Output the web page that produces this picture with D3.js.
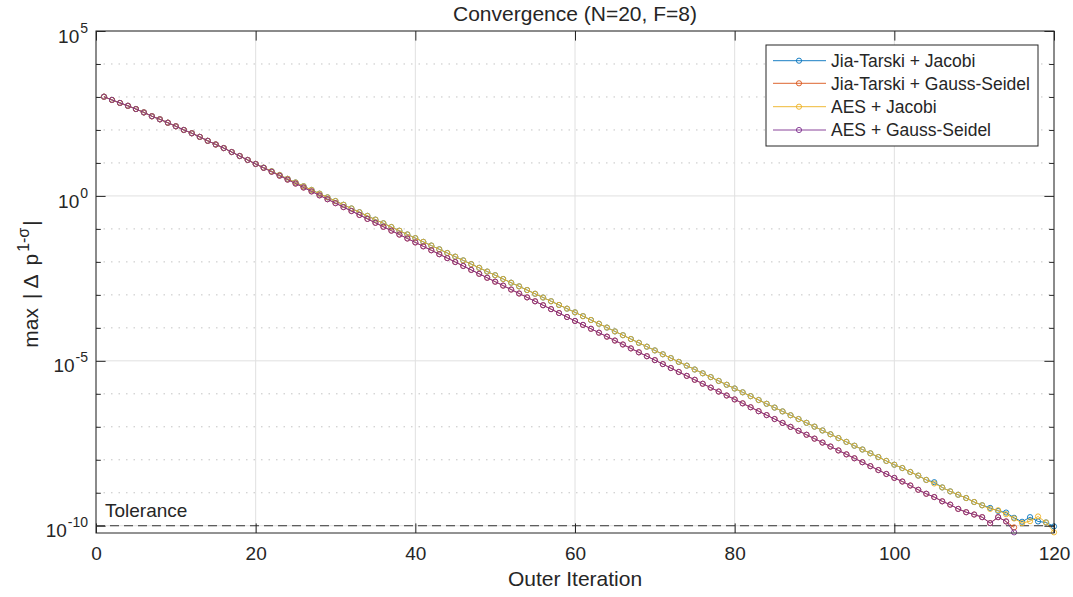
<!DOCTYPE html>
<html><head><meta charset="utf-8">
<script src="https://cdn.jsdelivr.net/npm/d3@7"></script>
<style>
body{margin:0;background:#fff}
svg{display:block}
text{font-family:"Liberation Sans",Arial,Helvetica,sans-serif;fill:#262626}
</style>
</head><body>
<svg id="chart" width="1073" height="597"></svg>
<script>
// ---------------- DATA ----------------
const title = "Convergence (N=20, F=8)";
const xLabel = "Outer Iteration";
const xTicks = [0, 20, 40, 60, 80, 100, 120];
const yMajorTicks = [1e-10, 1e-5, 1e0, 1e5];
const yMajorExponents = ["-10", "-5", "0", "5"];
const yMinorTicks = [1e-9,1e-8,1e-7,1e-6,1e-4,1e-3,1e-2,1e-1,1e1,1e2,1e3,1e4];
const tolerance = 1e-10;
const seriesNames = ["Jia-Tarski + Jacobi", "Jia-Tarski + Gauss-Seidel", "AES + Jacobi", "AES + Gauss-Seidel"];
const seriesColors = ["#0072BD", "#D95319", "#EDB120", "#7E2F8E"];

// max |Δ p^(1-σ)| per outer iteration (iteration = index + 1)
const jtJacobi = [
 1.02e3, 8.13e2, 6.6e2, 5.4e2, 4.3e2, 3.4e2, 2.6e2, 2.1e2, 1.66e2, 1.29e2,
 1.0e2, 7.94e1, 6.17e1, 4.68e1, 3.63e1, 2.82e1, 2.14e1, 1.62e1, 1.23e1, 9.3,
 7.2, 5.6, 4.3, 3.3, 2.56, 1.97, 1.52, 1.17, 9.06e-1, 7.0e-1,
 5.4e-1, 4.17e-1, 3.21e-1, 2.48e-1, 1.91e-1, 1.48e-1, 1.14e-1, 8.81e-2, 6.79e-2, 5.25e-2,
 4.05e-2, 3.13e-2, 2.41e-2, 1.86e-2, 1.44e-2, 1.11e-2, 8.55e-3, 6.61e-3, 5.09e-3, 3.94e-3,
 3.03e-3, 2.34e-3, 1.81e-3, 1.40e-3, 1.08e-3, 8.32e-4, 6.41e-4, 4.95e-4, 3.82e-4, 2.95e-4,
 2.26e-4, 1.73e-4, 1.33e-4, 1.02e-4, 7.80e-5, 5.98e-5, 4.58e-5, 3.52e-5, 2.69e-5, 2.07e-5,
 1.58e-5, 1.21e-5, 9.29e-6, 7.13e-6, 5.46e-6, 4.19e-6, 3.21e-6, 2.46e-6, 1.88e-6, 1.45e-6,
 1.11e-6, 8.49e-7, 6.50e-7, 4.99e-7, 3.82e-7, 2.93e-7, 2.24e-7, 1.72e-7, 1.32e-7, 1.01e-7,
 7.74e-8, 5.94e-8, 4.55e-8, 3.49e-8, 2.67e-8, 2.05e-8, 1.57e-8, 1.21e-8, 9.23e-9, 7.08e-9,
 5.62e-9, 4.27e-9, 3.31e-9, 2.45e-9, 2.09e-9, 1.45e-9, 1.10e-9, 8.71e-10, 6.92e-10, 5.25e-10,
 4.17e-10, 3.47e-10, 2.82e-10, 2.51e-10, 1.74e-10, 1.32e-10, 1.82e-10, 1.35e-10, 1.26e-10, 9.55e-11
];
const jtGaussSeidel = [
 1.02e3, 8.13e2, 6.6e2, 5.4e2, 4.3e2, 3.4e2, 2.6e2, 2.1e2, 1.66e2, 1.29e2,
 1.0e2, 7.94e1, 6.17e1, 4.68e1, 3.63e1, 2.82e1, 2.14e1, 1.62e1, 1.23e1, 9.3,
 7.1, 5.4, 4.1, 3.12, 2.37, 1.80, 1.37, 1.04, 7.93e-1, 6.03e-1,
 4.58e-1, 3.48e-1, 2.65e-1, 2.01e-1, 1.53e-1, 1.16e-1, 8.85e-2, 6.73e-2, 5.12e-2, 3.89e-2,
 2.96e-2, 2.25e-2, 1.71e-2, 1.30e-2, 9.89e-3, 7.52e-3, 5.71e-3, 4.35e-3, 3.30e-3, 2.51e-3,
 1.91e-3, 1.45e-3, 1.10e-3, 8.39e-4, 6.38e-4, 4.85e-4, 3.69e-4, 2.81e-4, 2.13e-4, 1.62e-4,
 1.23e-4, 9.38e-5, 7.13e-5, 5.42e-5, 4.12e-5, 3.13e-5, 2.38e-5, 1.81e-5, 1.38e-5, 1.05e-5,
 7.96e-6, 6.05e-6, 4.60e-6, 3.50e-6, 2.66e-6, 2.02e-6, 1.54e-6, 1.17e-6, 8.89e-7, 6.76e-7,
 5.14e-7, 3.91e-7, 2.97e-7, 2.26e-7, 1.72e-7, 1.31e-7, 9.93e-8, 7.55e-8, 5.74e-8, 4.37e-8,
 3.32e-8, 2.52e-8, 1.92e-8, 1.46e-8, 1.11e-8, 8.43e-9, 6.41e-9, 4.88e-9, 3.71e-9, 2.82e-9,
 2.19e-9, 1.66e-9, 1.23e-9, 9.33e-10, 7.41e-10, 5.50e-10, 4.37e-10, 3.24e-10, 2.57e-10, 2.19e-10,
 1.82e-10, 1.20e-10, 1.82e-10, 1.35e-10, 8.91e-11
];
const aesJacobi = [
 1.02e3, 8.13e2, 6.6e2, 5.4e2, 4.3e2, 3.4e2, 2.6e2, 2.1e2, 1.66e2, 1.29e2,
 1.0e2, 7.94e1, 6.17e1, 4.68e1, 3.63e1, 2.82e1, 2.14e1, 1.62e1, 1.23e1, 9.3,
 7.2, 5.6, 4.3, 3.3, 2.56, 1.97, 1.52, 1.17, 9.06e-1, 7.0e-1,
 5.4e-1, 4.17e-1, 3.21e-1, 2.48e-1, 1.91e-1, 1.48e-1, 1.14e-1, 8.81e-2, 6.79e-2, 5.25e-2,
 4.05e-2, 3.13e-2, 2.41e-2, 1.86e-2, 1.44e-2, 1.11e-2, 8.55e-3, 6.61e-3, 5.09e-3, 3.94e-3,
 3.03e-3, 2.34e-3, 1.81e-3, 1.40e-3, 1.08e-3, 8.32e-4, 6.41e-4, 4.95e-4, 3.82e-4, 2.95e-4,
 2.26e-4, 1.73e-4, 1.33e-4, 1.02e-4, 7.80e-5, 5.98e-5, 4.58e-5, 3.52e-5, 2.69e-5, 2.07e-5,
 1.58e-5, 1.21e-5, 9.29e-6, 7.13e-6, 5.46e-6, 4.19e-6, 3.21e-6, 2.46e-6, 1.88e-6, 1.45e-6,
 1.11e-6, 8.49e-7, 6.50e-7, 4.99e-7, 3.82e-7, 2.93e-7, 2.24e-7, 1.72e-7, 1.32e-7, 1.01e-7,
 7.74e-8, 5.94e-8, 4.55e-8, 3.49e-8, 2.67e-8, 2.05e-8, 1.57e-8, 1.21e-8, 9.23e-9, 7.08e-9,
 5.62e-9, 4.27e-9, 3.31e-9, 2.45e-9, 1.91e-9, 1.45e-9, 1.10e-9, 8.71e-10, 6.92e-10, 5.25e-10,
 4.17e-10, 3.24e-10, 2.95e-10, 2.24e-10, 1.66e-10, 1.20e-10, 1.38e-10, 1.91e-10, 1.26e-10, 6.31e-11
];
const aesGaussSeidel = [
 1.02e3, 8.13e2, 6.6e2, 5.4e2, 4.3e2, 3.4e2, 2.6e2, 2.1e2, 1.66e2, 1.29e2,
 1.0e2, 7.94e1, 6.17e1, 4.68e1, 3.63e1, 2.82e1, 2.14e1, 1.62e1, 1.23e1, 9.3,
 7.1, 5.4, 4.1, 3.12, 2.37, 1.80, 1.37, 1.04, 7.93e-1, 6.03e-1,
 4.58e-1, 3.48e-1, 2.65e-1, 2.01e-1, 1.53e-1, 1.16e-1, 8.85e-2, 6.73e-2, 5.12e-2, 3.89e-2,
 2.96e-2, 2.25e-2, 1.71e-2, 1.30e-2, 9.89e-3, 7.52e-3, 5.71e-3, 4.35e-3, 3.30e-3, 2.51e-3,
 1.91e-3, 1.45e-3, 1.10e-3, 8.39e-4, 6.38e-4, 4.85e-4, 3.69e-4, 2.81e-4, 2.13e-4, 1.62e-4,
 1.23e-4, 9.38e-5, 7.13e-5, 5.42e-5, 4.12e-5, 3.13e-5, 2.38e-5, 1.81e-5, 1.38e-5, 1.05e-5,
 7.96e-6, 6.05e-6, 4.60e-6, 3.50e-6, 2.66e-6, 2.02e-6, 1.54e-6, 1.17e-6, 8.89e-7, 6.76e-7,
 5.14e-7, 3.91e-7, 2.97e-7, 2.26e-7, 1.72e-7, 1.31e-7, 9.93e-8, 7.55e-8, 5.74e-8, 4.37e-8,
 3.32e-8, 2.52e-8, 1.92e-8, 1.46e-8, 1.11e-8, 8.43e-9, 6.41e-9, 4.88e-9, 3.71e-9, 2.82e-9,
 2.19e-9, 1.66e-9, 1.23e-9, 9.33e-10, 7.41e-10, 5.50e-10, 4.37e-10, 3.24e-10, 2.57e-10, 2.19e-10,
 1.82e-10, 1.20e-10, 1.82e-10, 1.35e-10, 6.31e-11
];
const seriesData = [jtJacobi, jtGaussSeidel, aesJacobi, aesGaussSeidel];

// ---------------- LAYOUT ----------------
const L = 96, R = 1054, T = 31, B = 533;
const axisColor = "#262626";
const svg = d3.select("#chart");
svg.append("rect").attr("width",1073).attr("height",597).attr("fill","#fff");

const x = d3.scaleLinear().domain([0,120]).range([L,R]);
const y = d3.scaleLog().domain([Math.pow(10,-10.22), 1e5]).range([B,T]);

// grid
const grid = svg.append("g");
grid.selectAll("line.ymin").data(yMinorTicks).join("line")
  .attr("x1",L).attr("x2",R).attr("y1",d=>y(d)).attr("y2",d=>y(d))
  .attr("stroke","#c4c4c4").attr("stroke-width",1).attr("stroke-dasharray","1.5 6");
grid.selectAll("line.ymaj").data(yMajorTicks).join("line")
  .attr("x1",L).attr("x2",R).attr("y1",d=>y(d)).attr("y2",d=>y(d))
  .attr("stroke","#e0e0e0").attr("stroke-width",1);
grid.selectAll("line.xmaj").data(xTicks).join("line")
  .attr("y1",T).attr("y2",B).attr("x1",d=>x(d)).attr("x2",d=>x(d))
  .attr("stroke","#e0e0e0").attr("stroke-width",1);

// tolerance line
svg.append("line").attr("x1",x(0)).attr("x2",x(120)).attr("y1",y(tolerance)).attr("y2",y(tolerance))
  .attr("stroke","#333").attr("stroke-width",1).attr("stroke-dasharray","9 5");

// series
const line = d3.line().x((d,i)=>x(i+1)).y(d=>y(d));
seriesData.forEach((data,k)=>{
  const g = svg.append("g");
  g.append("path").attr("d",line(data)).attr("fill","none")
    .attr("stroke",seriesColors[k]).attr("stroke-width",0.9);
  g.selectAll("circle").data(data).join("circle")
    .attr("cx",(d,i)=>x(i+1)).attr("cy",d=>y(d)).attr("r",2.6)
    .attr("fill","none").attr("stroke",seriesColors[k]).attr("stroke-width",0.9);
});

// axes (inside ticks)
function styleAxis(g){
  g.select(".domain").remove();
  g.selectAll(".tick line").attr("stroke",axisColor);
}
const fs = 19;
const xAxis = svg.append("g").attr("transform",`translate(0,${B})`)
  .call(d3.axisBottom(x).tickValues(xTicks).tickSize(-9.6).tickPadding(13.5).tickFormat(d3.format("d")));
styleAxis(xAxis);
xAxis.selectAll("text").attr("font-size",fs).attr("fill",axisColor).attr("font-family",null);
svg.append("g").attr("transform",`translate(0,${T})`)
  .call(d3.axisTop(x).tickValues(xTicks).tickSize(-9.6).tickFormat("")).call(styleAxis);

svg.append("g").attr("transform",`translate(${L},0)`)
  .call(d3.axisLeft(y).tickValues(yMajorTicks).tickSize(-9.6).tickFormat("")).call(styleAxis);
svg.append("g").attr("transform",`translate(${L},0)`)
  .call(d3.axisLeft(y).tickValues(yMinorTicks).tickSize(-4.8).tickFormat("")).call(styleAxis);
svg.append("g").attr("transform",`translate(${R},0)`)
  .call(d3.axisRight(y).tickValues(yMajorTicks).tickSize(-9.6).tickFormat("")).call(styleAxis);
svg.append("g").attr("transform",`translate(${R},0)`)
  .call(d3.axisRight(y).tickValues(yMinorTicks).tickSize(-4.8).tickFormat("")).call(styleAxis);

// y tick labels with superscripts
yMajorTicks.forEach((v,i)=>{
  const t = svg.append("text").attr("x",L-8).attr("y",y(v)+11.6)
    .attr("text-anchor","end").attr("font-size",fs).attr("fill",axisColor);
  t.append("tspan").text("10");
  t.append("tspan").attr("dy",-10).attr("dx",1).attr("font-size",14).text(yMajorExponents[i]);
});

// box
svg.append("rect").attr("x",L).attr("y",T).attr("width",R-L).attr("height",B-T)
  .attr("fill","none").attr("stroke",axisColor).attr("stroke-width",1);

// title and labels
svg.append("text").attr("x",(L+R)/2).attr("y",21).attr("text-anchor","middle")
  .attr("font-size",21).attr("fill","#000").text(title);
svg.append("text").attr("x",(L+R)/2).attr("y",586).attr("text-anchor","middle")
  .attr("font-size",21).attr("fill",axisColor).text(xLabel);
const yl = svg.append("text").attr("transform",`translate(38,${(T+B)/2+2}) rotate(-90)`)
  .attr("text-anchor","middle").attr("font-size",21).attr("fill",axisColor);
yl.append("tspan").text("max");
yl.append("tspan").attr("dx",9).text("|");
yl.append("tspan").attr("dx",5).text("Δ");
yl.append("tspan").attr("dx",9).text("p");
yl.append("tspan").attr("dy",-9).attr("dx",2).attr("font-size",16).text("1-σ");
yl.append("tspan").attr("dy",9).attr("dx",2).text("|");

// tolerance text
svg.append("text").attr("x",105).attr("y",516.5).attr("font-size",19).attr("fill","#000").text("Tolerance");

// legend
const lg = svg.append("g");
lg.append("rect").attr("x",766).attr("y",45).attr("width",272).attr("height",101)
  .attr("fill","#fff").attr("stroke",axisColor).attr("stroke-width",1);
const rowY = [60.7, 83.3, 106.7, 130];
seriesNames.forEach((name,k)=>{
  lg.append("line").attr("x1",773).attr("x2",826).attr("y1",rowY[k]).attr("y2",rowY[k])
    .attr("stroke",seriesColors[k]).attr("stroke-width",0.9);
  lg.append("circle").attr("cx",799).attr("cy",rowY[k]).attr("r",2.6)
    .attr("fill","none").attr("stroke",seriesColors[k]).attr("stroke-width",0.9);
  lg.append("text").attr("x",831).attr("y",rowY[k]+6.2).attr("font-size",17.5).attr("fill","#000").text(name);
});
</script>
</body></html>
